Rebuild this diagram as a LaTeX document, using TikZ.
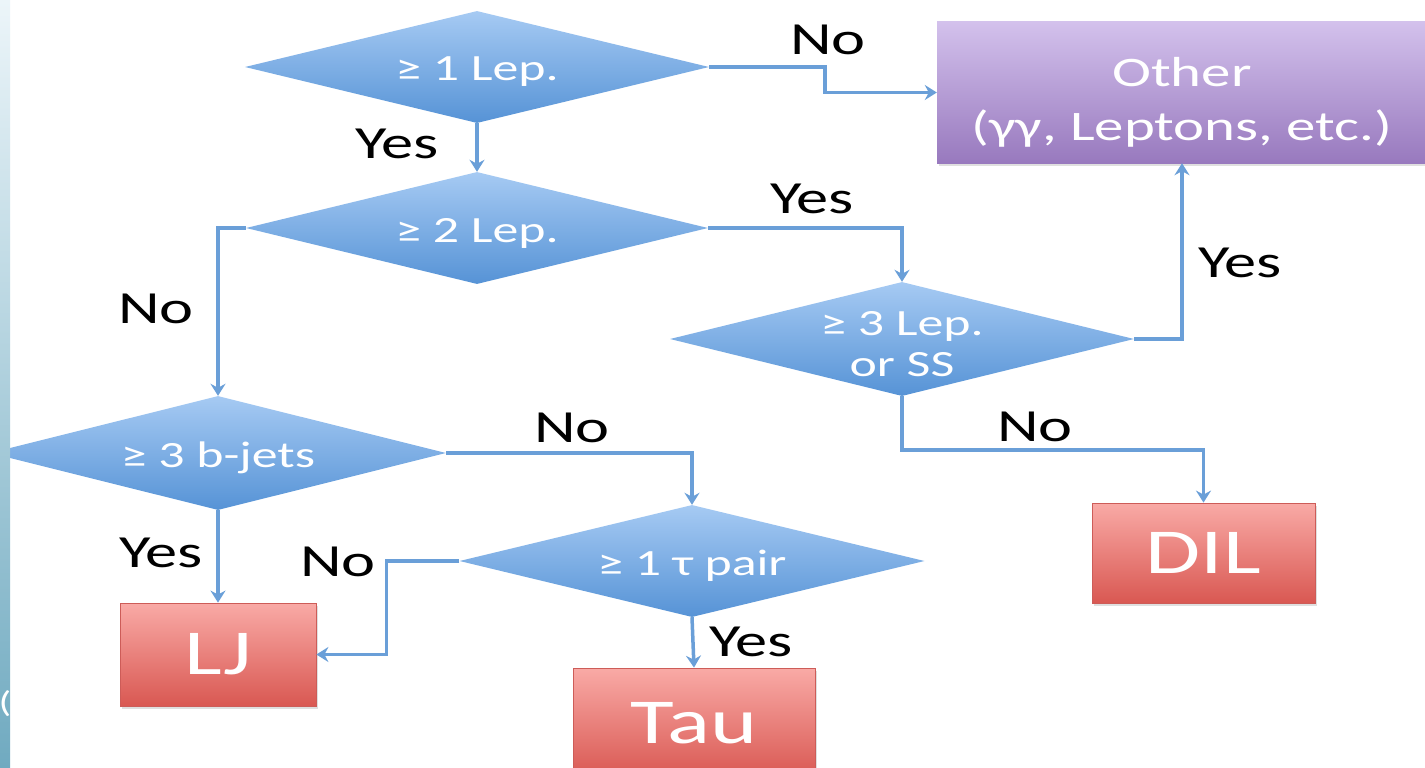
\documentclass[tikz,border=0pt]{standalone}
\usepackage{fontspec}
\setmainfont{Carlito}[FakeStretch=1.4]
\usetikzlibrary{shapes.geometric,arrows.meta,shadows}
\definecolor{linecol}{RGB}{106,159,216}
\definecolor{dtop}{RGB}{166,202,243}
\definecolor{dbot}{RGB}{86,147,214}
\definecolor{rtop}{RGB}{249,170,166}
\definecolor{rbot}{RGB}{217,88,82}
\definecolor{rbord}{RGB}{205,92,88}
\definecolor{ptop}{RGB}{211,193,236}
\definecolor{pbot}{RGB}{152,121,190}
\definecolor{stop}{RGB}{236,245,249}
\definecolor{sbot}{RGB}{112,170,192}
\tikzset{
  dec/.style={diamond, minimum width=#1, minimum height=112pt, inner sep=0pt,
    top color=dtop, bottom color=dbot, draw=none},
  dtext/.style={text=white, font=\fontsize{37}{41}\selectfont, align=center, yshift=-5pt},
  endbox/.style={rectangle, inner sep=0pt, top color=rtop, bottom color=rbot,
    draw=rbord, line width=0.8pt, text=white, font=\fontsize{64}{68}\selectfont,
    drop shadow={opacity=0.25, shadow xshift=2pt, shadow yshift=-3pt}},
  otherbox/.style={rectangle, inner sep=0pt, top color=ptop, bottom color=pbot,
    draw=none,
    drop shadow={opacity=0.25, shadow xshift=2pt, shadow yshift=-3pt}},
  othertext/.style={text=white, font=\fontsize{42}{54}\selectfont, align=center, yshift=-10pt},
  lab/.style={text=black, font=\fontsize{46}{50}\selectfont, inner sep=0pt},
  conn/.style={draw=linecol, line width=3.5pt,
    -{Stealth[length=12pt,width=15pt,inset=4pt]}},
}
\begin{document}
\begin{tikzpicture}[x=1pt,y=-1pt]
\useasboundingbox (0,0) rectangle (1425,768);
\clip (0,0) rectangle (1425,768);
\fill[white] (0,0) rectangle (1425,768);

% decisions
\node[dec=464pt, label={[dtext]center:{≥ 1 Lep.}}] (d1) at (477,67) {};
\node[dec=462pt, label={[dtext]center:{≥ 2 Lep.}}] (d2) at (477,228) {};
\node[dec=464pt, minimum height=114pt, label={[dtext]center:{≥ 3 Lep.\\or SS}}] (d3) at (902,339) {};
\node[dec=456pt, minimum height=114pt, label={[dtext]center:{≥ 3 b-jets}}] (d4) at (218,453) {};
\node[dec=465pt, label={[dtext]center:{≥ 1 τ pair}}] (d5) at (692,561) {};

% outcomes
\node[otherbox, minimum width=490pt, minimum height=141pt,
  label={[othertext]center:{Other\\(γγ, Leptons, etc.)}}] (other) at (1182,92.5) {};
\node[endbox, minimum width=196pt, minimum height=103pt] (lj) at (218,654.5) {\raisebox{-2pt}{LJ}};
\node[endbox, minimum width=242pt, minimum height=110pt] (tau) at (694,723) {Tau};
\node[endbox, minimum width=223pt, minimum height=100pt] (dil) at (1203.5,553) {\raisebox{-6pt}{DIL}};

% connectors
\draw[conn] (d1.east) -- ++(116,0) |- (other.west);
\draw[conn] (d1.south) -- (d2.north);
\draw[conn] (d2.east) -| (d3.north);
\draw[conn] (d2.west) -| (d4.north);
\draw[conn] (d3.east) -| (other.south);
\draw[conn] (d3.south) -- ++(0,54) -| (dil.north);
\draw[conn] (d4.east) -| (d5.north);
\draw[conn] (d4.south) -- (lj.north);
\draw[conn] (d5.west) -- ++(-73,0) |- (lj.east);
\draw[conn] (d5.south) -- (tau.north);

% labels
\node[lab] (l1) at (828,40) {No};
\node[lab] (l2) at (397,144) {Yes};
\node[lab] (l3) at (812,199) {Yes};
\node[lab] (l4) at (156,309) {No};
\node[lab] (l5) at (1240,263) {Yes};
\node[lab] (l6) at (1035,427) {No};
\node[lab] (l7) at (572,428) {No};
\node[lab] (l8) at (161,553) {Yes};
\node[lab] (l9) at (338,562) {No};
\node[lab] (l10) at (751,642) {Yes};

% left edge strip
\shade[top color=stop, bottom color=sbot] (0,0) rectangle (10,768);
\node[text=white, font=\fontsize{30}{32}\selectfont, inner sep=0pt] (paren) at (5,704) {(};
\end{tikzpicture}
\end{document}
